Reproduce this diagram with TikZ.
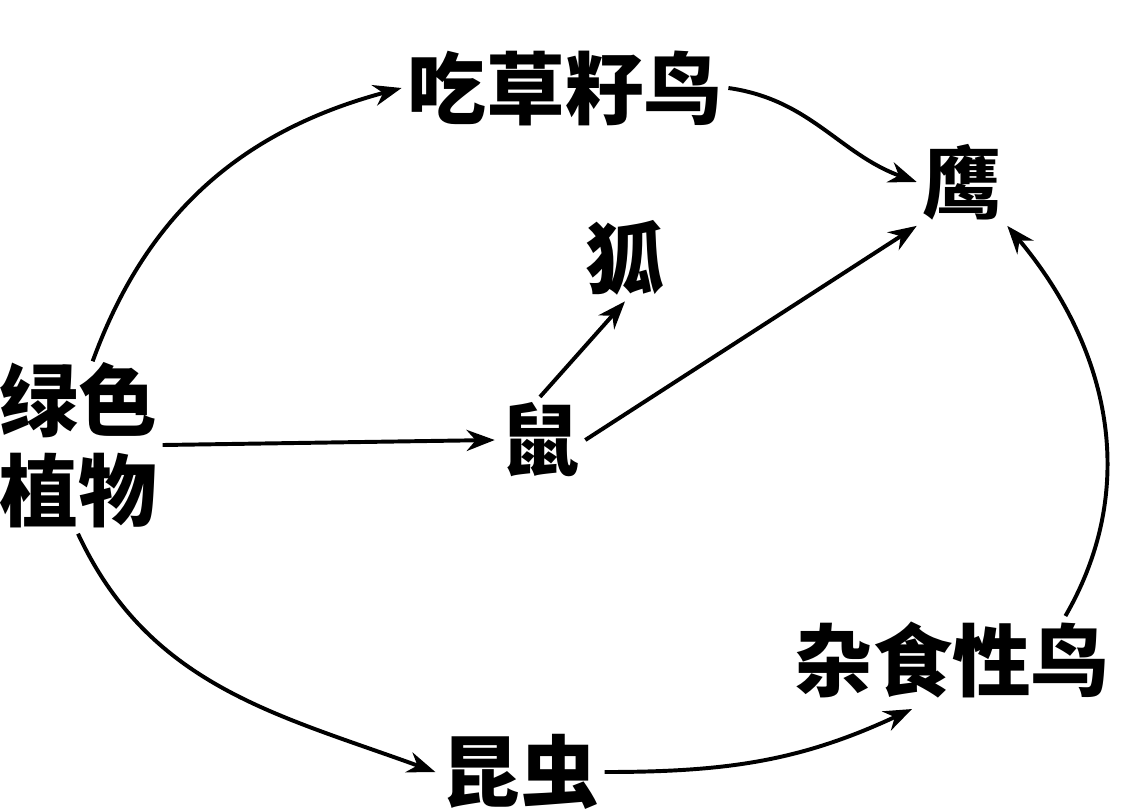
\documentclass[tikz,border=0pt]{standalone}
\usepackage{fontspec}
\newfontfamily\cjk{Noto Sans CJK SC}
\usetikzlibrary{arrows.meta}

\begin{document}
\begin{tikzpicture}[x=0.025cm, y=-0.025cm,
	sp/.style={font=\cjk\bfseries\fontsize{56}{64}\selectfont, inner sep=4pt, align=center},
	feed/.style={-{Stealth[length=20pt,width=15pt]}, line width=2.8pt}]
\useasboundingbox (0,0) rectangle (1141,810);
\node[sp] (plant) at (78,445) {绿色\\植物};
\node[sp] (seed) at (565,88) {吃草籽鸟};
\node[sp] (hawk) at (962,182) {鹰};
\node[sp] (fox) at (625,258) {狐};
\node[sp] (mouse) at (540,440) {鼠};
\node[sp] (omni) at (952,660) {杂食性鸟};
\node[sp] (insect) at (520,772) {昆虫};
\path (plant.north east) ++(-70,5) coordinate (p1);
\path (omni.north east) ++(-50,0) coordinate (o1);
\path (omni.south) ++(-40,5) coordinate (o2);
\draw[feed] (p1) to[out=70, in=195] (seed.west);
\draw[feed] (seed.east) to[out=-8, in=160] (hawk.west);
\draw[feed] (plant.east) -- (mouse.west);
\draw[feed] (mouse.north) -- (fox.south);
\draw[feed] (mouse.east) -- (hawk.south west);
\draw[feed] (plant.south) to[out=-65, in=160] (insect.west);
\draw[feed] (insect.east) to[out=0, in=205] (o2);
\draw[feed] (o1) to[out=60, in=-50] (hawk.south east);
\end{tikzpicture}
\end{document}
